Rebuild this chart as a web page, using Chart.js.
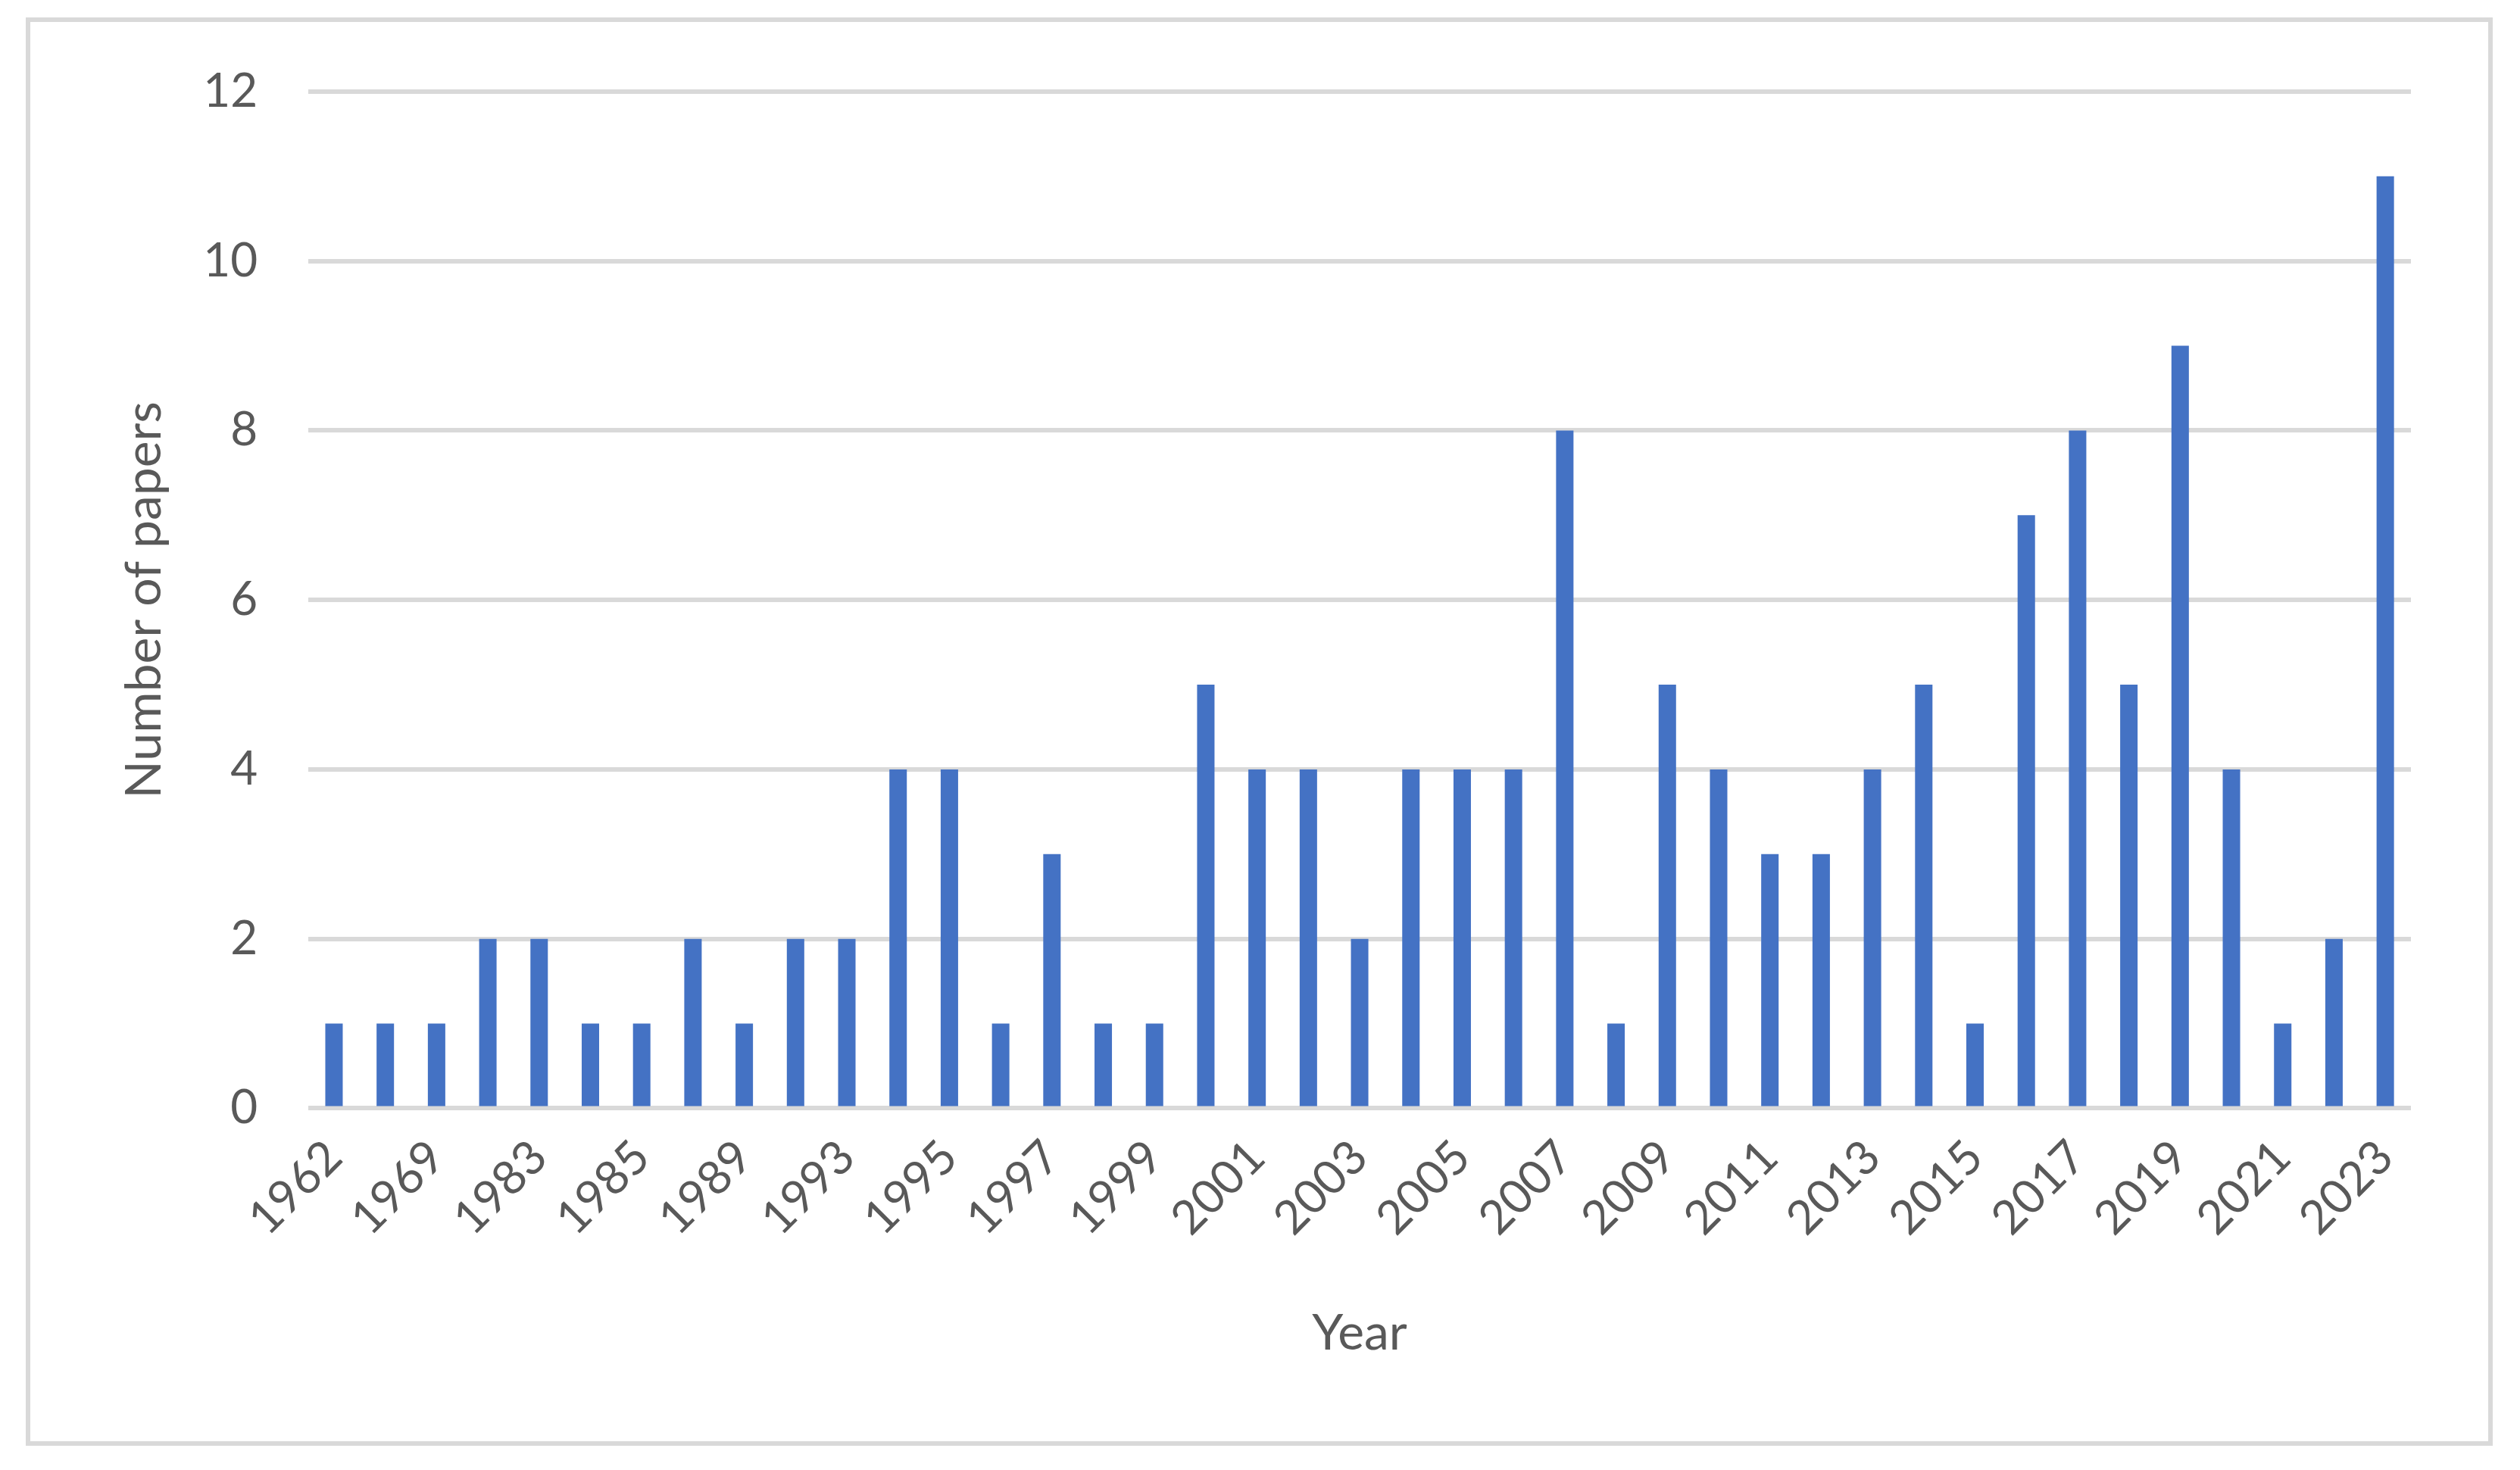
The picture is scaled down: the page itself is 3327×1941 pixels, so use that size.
<!DOCTYPE html>
<html>
<head>
<meta charset="utf-8">
<script src="https://cdn.jsdelivr.net/npm/chart.js@4.4.1/dist/chart.umd.min.js"></script>
<style>
    html, body { margin: 0; padding: 0; background: #ffffff; }
    #wrap { position: relative; width: 3327px; height: 1941px; }
    .frame { position: absolute; left: 34px; top: 23px; width: 3245px; height: 1874px; border: 6px solid #d9d9d9; }
    canvas { position: absolute; left: 0; top: 0; }
</style>
</head>
<body>
<div id="wrap">
    <div class="frame"></div>
    <canvas id="chart-papers" width="3327" height="1941"></canvas>
</div>
<script>
// years (only every other one is printed on the axis)
var years = ['1962', '1966', '1969', '1979', '1983', '1984', '1985', '1987', '1989', '1991',
    '1993', '1994', '1995', '1996', '1997', '1998', '1999', '2000', '2001', '2002',
    '2003', '2004', '2005', '2006', '2007', '2008', '2009', '2010', '2011', '2012',
    '2013', '2014', '2015', '2016', '2017', '2018', '2019', '2020', '2021', '2022', '2023'];
var papers = [1, 1, 1, 2, 2, 1, 1, 2, 1, 2,
    2, 4, 4, 1, 3, 1, 1, 5, 4, 4,
    2, 4, 4, 4, 8, 1, 5, 4, 3, 3,
    4, 5, 1, 7, 8, 5, 9, 4, 1, 2, 11];
var yTicks = [0, 2, 4, 6, 8, 10, 12];

var fontFamily = 'Lato, "Open Sans", sans-serif';
var textColor = '#595959';

const ctx = document.getElementById('chart-papers').getContext('2d');
const papersChart = new Chart(ctx, {
    type: 'bar',
    data: {
        labels: years,
        datasets: [{
            data: papers,
            backgroundColor: '#4472c4',
            barPercentage: 0.34,
            categoryPercentage: 1.0
        }]
    },
    options: {
        responsive: false,
        animation: false,
        layout: {
            padding: { left: 151, right: 144, top: 121, bottom: 137 }
        },
        plugins: {
            legend: { display: false },
            tooltip: { enabled: false }
        },
        scales: {
            x: {
                grid: { display: false, drawTicks: false },
                border: { display: false },
                ticks: {
                    autoSkip: false,
                    maxRotation: 45,
                    minRotation: 45,
                    padding: 28,
                    color: textColor,
                    font: { family: fontFamily, size: 62 },
                    callback: function (value, index) {
                        return index % 2 === 0 ? years[index] : '';
                    }
                },
                title: {
                    display: true,
                    text: 'Year',
                    color: textColor,
                    font: { family: fontFamily, size: 66 },
                    padding: { top: 47 }
                }
            },
            y: {
                min: 0,
                max: 12,
                afterBuildTicks: function (axis) {
                    axis.ticks = yTicks.map(function (v) { return { value: v }; });
                },
                grid: { color: '#d9d9d9', lineWidth: 6, drawTicks: false },
                border: { display: false },
                ticks: {
                    padding: 67,
                    color: textColor,
                    font: { family: fontFamily, size: 62 }
                },
                title: {
                    display: true,
                    text: 'Number of papers',
                    color: textColor,
                    font: { family: fontFamily, size: 66 },
                    padding: { top: 0, bottom: -29 }
                }
            }
        }
    }
});
</script>
</body>
</html>
